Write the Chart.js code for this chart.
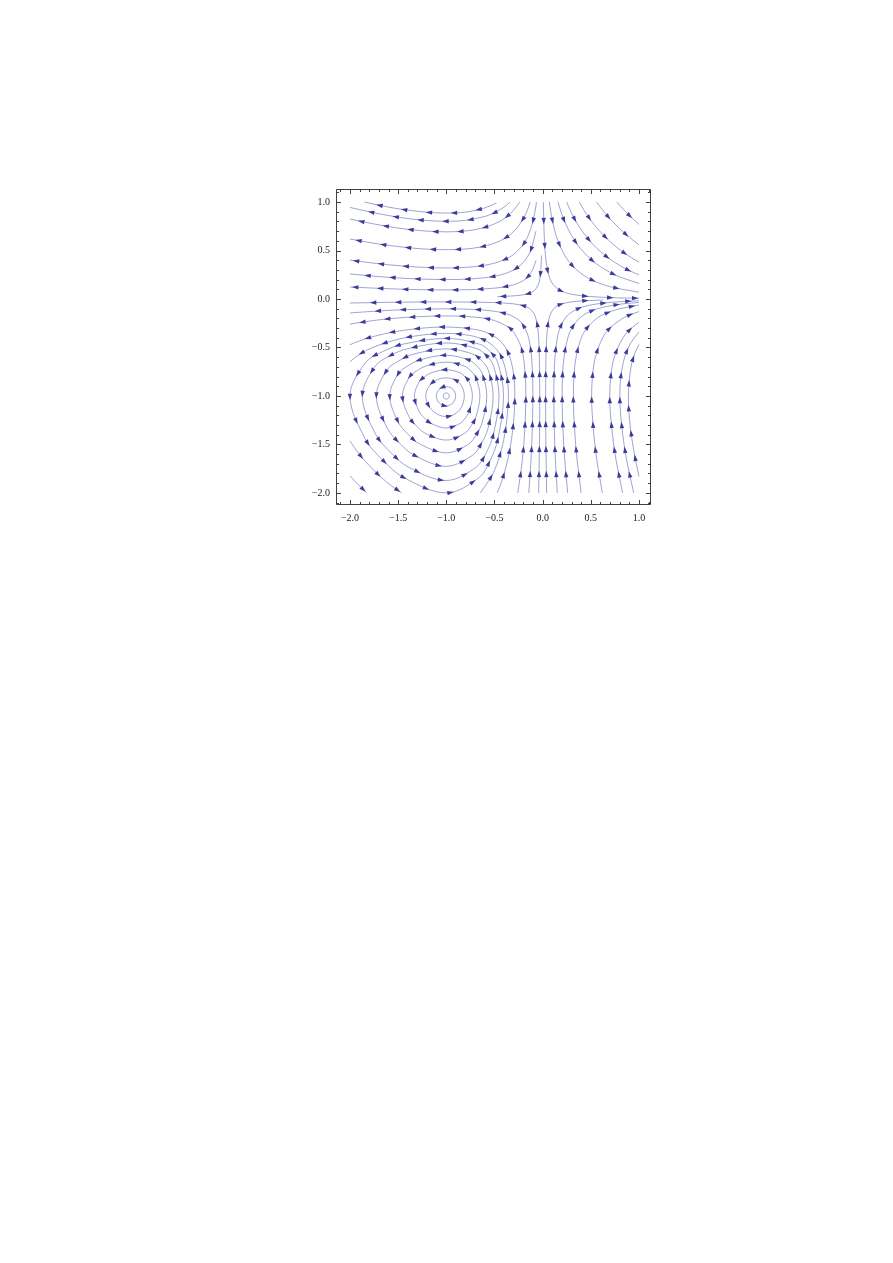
<!DOCTYPE html>
<html lang="en">
<head>
<meta charset="UTF-8">
<title>Stream plot</title>
<script src="https://cdn.jsdelivr.net/npm/chart.js"></script>
<style>
  html, body { margin: 0; padding: 0; background: #fff; }
  #plot { display: block; }
</style>
</head>
<body>
<canvas id="plot" width="893" height="1263"></canvas>
<script>
// tick positions
const xMajor = [-2, -1.5, -1, -0.5, 0, 0.5, 1];
const yMajor = [-2, -1.5, -1, -0.5, 0, 0.5, 1];
const minorTicks = [-2.1, -1.9, -1.8, -1.7, -1.6, -1.4, -1.3, -1.2, -1.1, -0.9, -0.8, -0.7, -0.6,
                    -0.4, -0.3, -0.2, -0.1, 0.1, 0.2, 0.3, 0.4, 0.6, 0.7, 0.8, 0.9, 1.1];

// streamlines, each one listed in the direction of flow
// upper left: come down near x = 0 and run off to the left
const upperLeft1 = [[-0.48,0.99],[-0.6,0.94],[-0.8,0.897],[-1,0.887],[-1.2,0.895],[-1.4,0.917],[-1.6,0.948],[-1.85,1.0]];
const upperLeft2 = [[-0.34,1],[-0.4,0.948],[-0.5,0.89],[-0.6,0.852],[-0.8,0.812],[-1,0.802],[-1.2,0.81],[-1.4,0.83],[-1.6,0.861],[-1.8,0.9],[-2,0.945]];
const upperLeft3 = [[-0.238,1],[-0.3,0.917],[-0.4,0.829],[-0.5,0.775],[-0.65,0.727],[-0.8,0.702],[-1,0.693],[-1.25,0.704],[-1.5,0.732],[-1.75,0.774],[-2,0.825]];
const upperLeft4 = [[-0.13,1],[-0.15,0.94],[-0.2,0.829],[-0.3,0.697],[-0.4,0.622],[-0.5,0.576],[-0.65,0.536],[-0.8,0.516],[-1,0.509],[-1.25,0.517],[-1.5,0.541],[-1.75,0.575],[-2,0.619]];
const upperLeft5 = [[-0.064,1],[-0.07,0.957],[-0.1,0.804],[-0.15,0.655],[-0.2,0.565],[-0.3,0.4615],[-0.4,0.4045],[-0.55,0.358],[-0.75,0.33],[-1,0.32],[-1.3,0.33],[-1.6,0.3535],[-1.85,0.382],[-2,0.402]];
const upperLeft6 = [[-0.069,0.7],[-0.124,0.5],[-0.1815,0.4],[-0.254,0.33],[-0.35,0.2775],[-0.5,0.235],[-0.75,0.207],[-1,0.201],[-1.3,0.207],[-1.6,0.224],[-2,0.258]];
const upperLeft7 = [[-0.068,0.4],[-0.1045,0.3],[-0.163,0.22],[-0.24,0.17],[-0.35,0.135],[-0.5,0.112],[-0.75,0.097],[-1,0.094],[-1.3,0.097],[-1.6,0.106],[-2,0.124]];
const upperLeft8 = [[-0.0107,0.45],[-0.019,0.3],[-0.03,0.2],[-0.045,0.15],[-0.074,0.1],[-0.112,0.07],[-0.17,0.05],[-0.227,0.04],[-0.343,0.03],[-0.47,0.025]];

// upper right: come down from the top and run off to the right
const upperRight1 = [[0.77,1],[0.85,0.913],[0.93,0.833],[1,0.77]];
const upperRight2 = [[0.56,1],[0.65,0.884],[0.75,0.775],[0.875,0.658],[1,0.56]];
const upperRight3 = [[0.38,1],[0.45,0.884],[0.55,0.749],[0.7,0.593],[0.85,0.473],[1,0.38]];
const upperRight4 = [[0.25,1],[0.3,0.887],[0.37,0.761],[0.47,0.623],[0.6,0.489],[0.75,0.377],[0.88,0.303],[1,0.25]];
const upperRight5 = [[0.16,1],[0.19,0.901],[0.23,0.796],[0.3,0.655],[0.4,0.5125],[0.55,0.37],[0.75,0.25],[1,0.16]];
const upperRight6 = [[0.07,1],[0.08,0.93],[0.1,0.818],[0.13,0.691],[0.17,0.572],[0.25,0.418],[0.35,0.304],[0.5,0.202],[0.7,0.1275],[1,0.07]];
const upperRight7 = [[0.0078,1],[0.0118,0.8],[0.019,0.6],[0.029,0.45],[0.05,0.3],[0.08,0.2],[0.109,0.15],[0.163,0.1],[0.2255,0.07],[0.299,0.05],[0.441,0.03],[0.58,0.02],[0.695,0.015],[0.877,0.01],[1,0.0078]];

// lower right: rise from the bottom and bend off to the right
const lowerRight1 = [[0.0415,-2],[0.034,-1.5],[0.031,-1],[0.037,-0.5],[0.05,-0.3],[0.067,-0.2],[0.0835,-0.15],[0.115,-0.1],[0.154,-0.07],[0.201,-0.05],[0.298,-0.03],[0.4,-0.02],[0.63,-0.01]];
const lowerRight2 = [[0.152,-2],[0.13,-1.6],[0.118,-1.2],[0.116,-1],[0.118,-0.8],[0.128,-0.6],[0.152,-0.4],[0.18,-0.3],[0.232,-0.2],[0.28,-0.15],[0.367,-0.1],[0.462,-0.07],[0.57,-0.05],[0.765,-0.03],[1,-0.018]];
const lowerRight3 = [[0.26,-2],[0.2255,-1.6],[0.2055,-1.2],[0.203,-1],[0.206,-0.8],[0.222,-0.6],[0.262,-0.4],[0.303,-0.3],[0.381,-0.2],[0.45,-0.15],[0.5705,-0.1],[0.697,-0.07],[0.834,-0.05],[1,-0.035]];
const lowerRight4 = [[0.4,-2],[0.352,-1.6],[0.3235,-1.2],[0.319,-1],[0.325,-0.8],[0.347,-0.6],[0.402,-0.4],[0.46,-0.3],[0.562,-0.2],[0.652,-0.15],[0.801,-0.1],[1,-0.063]];
const lowerRight5 = [[0.62,-2],[0.554,-1.6],[0.5155,-1.2],[0.509,-1],[0.517,-0.8],[0.548,-0.6],[0.623,-0.4],[0.698,-0.3],[0.83,-0.2],[0.916,-0.16],[1,-0.13]];
const lowerRight6 = [[0.83,-2],[0.752,-1.6],[0.705,-1.2],[0.697,-1],[0.707,-0.8],[0.744,-0.6],[0.835,-0.4],[0.922,-0.3],[1,-0.241]];
const lowerRight7 = [[0.945,-2],[0.861,-1.6],[0.81,-1.2],[0.802,-1],[0.812,-0.8],[0.852,-0.6],[0.9175,-0.45],[1,-0.34]];
const lowerRight8 = [[1,-1.83],[0.953,-1.6],[0.908,-1.3],[0.8905,-1],[0.9175,-0.7],[0.962,-0.55],[1,-0.47]];

// lower left: big orbits cut by the frame
const cutOrbit1 = [[-0.646,-2],[-0.516,-1.8],[-0.441,-1.6],[-0.394,-1.4],[-0.367,-1.2],[-0.355,-1],[-0.37,-0.8],[-0.426,-0.6],[-0.5,-0.497],[-0.6,-0.426],[-0.75,-0.377],[-1,-0.355],[-1.25,-0.372],[-1.5,-0.415],[-1.75,-0.494],[-1.9,-0.57],[-2,-0.646]];
const cutCorner1 = [[-2,-1.465],[-1.9,-1.605],[-1.76,-1.76],[-1.605,-1.9],[-1.465,-2]];
const cutOrbit2 = [[-0.472,-2],[-0.4145,-1.85],[-0.35,-1.6],[-0.305,-1.3],[-0.289,-1],[-0.305,-0.75],[-0.36,-0.55],[-0.437,-0.437],[-0.55,-0.36],[-0.7,-0.3135],[-1,-0.289],[-1.3,-0.305],[-1.55,-0.3405],[-1.75,-0.385],[-1.9,-0.4315],[-2,-0.472]];
const cutCorner2 = [[-2,-1.825],[-1.914,-1.914],[-1.825,-2]];
const cutOrbit3 = [[-0.258,-2],[-0.215,-1.7],[-0.1885,-1.4],[-0.1745,-1],[-0.187,-0.7],[-0.222,-0.5],[-0.293,-0.35],[-0.32,-0.32],[-0.35,-0.293],[-0.5,-0.222],[-0.7,-0.187],[-1,-0.1745],[-1.4,-0.1885],[-1.7,-0.215],[-2,-0.258]];
const cutOrbit4 = [[-0.144,-2],[-0.123,-1.7],[-0.109,-1.4],[-0.1015,-1],[-0.108,-0.7],[-0.1265,-0.5],[-0.161,-0.35],[-0.2145,-0.25],[-0.2315,-0.2315],[-0.25,-0.2145],[-0.35,-0.161],[-0.5,-0.1265],[-0.7,-0.108],[-1,-0.1015],[-1.4,-0.109],[-1.7,-0.123],[-2,-0.144]];
const cutOrbit5 = [[-0.041,-2],[-0.033,-1.5],[-0.03,-1],[-0.0365,-0.5],[-0.05,-0.3],[-0.07,-0.2],[-0.09,-0.15],[-0.116,-0.116],[-0.15,-0.09],[-0.2,-0.07],[-0.3,-0.05],[-0.5,-0.0365],[-1,-0.03],[-1.5,-0.033],[-2,-0.041]];

// closed rings round the centre at (-1, -1), counter-clockwise
const ring0 = [[-0.969,-1],[-0.978,-0.978],[-1,-0.969],[-1.022,-0.978],[-1.032,-1],[-1.022,-1.022],[-1,-1.032],[-0.978,-1.022]];
const ring1 = [[-0.903,-1],[-0.931,-0.931],[-1,-0.903],[-1.0725,-0.931],[-1.104,-1],[-1.0725,-1.0725],[-1,-1.104],[-0.931,-1.0725]];
const ring2 = [[-0.813,-1],[-0.865,-0.865],[-1,-0.813],[-1.148,-0.865],[-1.213,-1],[-1.148,-1.148],[-1,-1.213],[-0.865,-1.148]];
const ring3 = [[-0.729,-1],[-0.762,-0.857],[-0.803,-0.803],[-0.857,-0.762],[-1,-0.729],[-1.158,-0.762],[-1.227,-0.803],[-1.283,-0.857],[-1.331,-1],[-1.283,-1.158],[-1.227,-1.227],[-1.158,-1.283],[-1,-1.331],[-0.857,-1.283],[-0.803,-1.227],[-0.762,-1.158]];
const ring4 = [[-0.651,-1],[-0.692,-0.813],[-0.743,-0.743],[-0.813,-0.692],[-1,-0.651],[-1.213,-0.692],[-1.31,-0.743],[-1.388,-0.813],[-1.455,-1],[-1.388,-1.213],[-1.31,-1.31],[-1.213,-1.388],[-1,-1.455],[-0.813,-1.388],[-0.743,-1.31],[-0.692,-1.213]];
const ring5 = [[-0.58,-1],[-0.627,-0.77],[-0.687,-0.687],[-0.77,-0.627],[-1,-0.58],[-1.271,-0.627],[-1.396,-0.687],[-1.498,-0.77],[-1.587,-1],[-1.498,-1.271],[-1.396,-1.396],[-1.271,-1.498],[-1,-1.587],[-0.77,-1.498],[-0.687,-1.396],[-0.627,-1.271]];
const ring6 = [[-0.514,-1],[-0.566,-0.729],[-0.634,-0.634],[-0.729,-0.566],[-1,-0.514],[-1.331,-0.566],[-1.486,-0.634],[-1.613,-0.729],[-1.726,-1],[-1.613,-1.331],[-1.486,-1.486],[-1.331,-1.613],[-1,-1.726],[-0.729,-1.613],[-0.634,-1.486],[-0.566,-1.331]];
const ring7 = [[-0.453,-1],[-0.51,-0.69],[-0.583,-0.583],[-0.69,-0.51],[-1,-0.453],[-1.392,-0.51],[-1.58,-0.583],[-1.735,-0.69],[-1.872,-1],[-1.735,-1.392],[-1.58,-1.58],[-1.392,-1.735],[-1,-1.872],[-0.69,-1.735],[-0.583,-1.58],[-0.51,-1.392]];
const ring8 = [[-0.406,-1],[-0.465,-0.658],[-0.543,-0.543],[-0.658,-0.465],[-1,-0.406],[-1.445,-0.465],[-1.661,-0.543],[-1.84,-0.658],[-2,-1],[-1.84,-1.445],[-1.661,-1.661],[-1.445,-1.84],[-1,-2],[-0.658,-1.84],[-0.543,-1.661],[-0.465,-1.445]];

const openLines = [
  upperLeft1, upperLeft2, upperLeft3, upperLeft4, upperLeft5, upperLeft6, upperLeft7, upperLeft8,
  upperRight1, upperRight2, upperRight3, upperRight4, upperRight5, upperRight6, upperRight7,
  lowerRight1, lowerRight2, lowerRight3, lowerRight4, lowerRight5, lowerRight6, lowerRight7, lowerRight8,
  cutOrbit1, cutCorner1, cutOrbit2, cutCorner2, cutOrbit3, cutOrbit4, cutOrbit5
];
const rings = [ring0, ring1, ring2, ring3, ring4, ring5, ring6, ring7, ring8];

const LINE_COLOR = 'rgba(62, 62, 158, 0.6)';
const ARROW_COLOR = '#3b3b9c';
const ARROW_FIRST = 19;   // px from the start of a line to its first head
const ARROW_GAP = 25;     // px between heads
const ARROW_LEN = 6.5;
const ARROW_HALF = 2.2;

const datasets = [];
openLines.forEach(pts => {
  datasets.push({ data: pts.map(([x, y]) => ({ x, y })), loop: false });
});
rings.forEach(pts => {
  // wrap one point on each side so the spline closes smoothly, then hide the two extra pieces
  const wrapped = [pts[pts.length - 1], ...pts, pts[0], pts[1]];
  const n = wrapped.length;
  datasets.push({
    data: wrapped.map(([x, y]) => ({ x, y })),
    loop: true,
    segment: {
      borderColor: c => (c.p0DataIndex === 0 || c.p1DataIndex === n - 1) ? 'rgba(0,0,0,0)' : undefined
    }
  });
});

function bez(a, b, t) {
  const c1x = a.cp2x ?? a.x, c1y = a.cp2y ?? a.y;
  const c2x = b.cp1x ?? b.x, c2y = b.cp1y ?? b.y;
  const u = 1 - t;
  return [
    u * u * u * a.x + 3 * u * u * t * c1x + 3 * u * t * t * c2x + t * t * t * b.x,
    u * u * u * a.y + 3 * u * u * t * c1y + 3 * u * t * t * c2y + t * t * t * b.y
  ];
}

// arrow heads spaced along each drawn curve
const arrowPlugin = {
  id: 'arrows',
  afterDatasetsDraw(chart) {
    const { ctx, chartArea: a } = chart;
    ctx.save();
    ctx.beginPath();
    ctx.rect(a.left, a.top, a.right - a.left, a.bottom - a.top);
    ctx.clip();
    ctx.fillStyle = ARROW_COLOR;
    chart.data.datasets.forEach((ds, i) => {
      const pts = chart.getDatasetMeta(i).data;
      const first = ds.loop ? 1 : 0;
      const last = ds.loop ? pts.length - 2 : pts.length - 1;
      const samples = [[pts[first].x, pts[first].y]];
      for (let j = first; j < last; j++) {
        for (let k = 1; k <= 20; k++) samples.push(bez(pts[j], pts[j + 1], k / 20));
      }
      let total = 0;
      for (let k = 1; k < samples.length; k++) {
        total += Math.hypot(samples[k][0] - samples[k - 1][0], samples[k][1] - samples[k - 1][1]);
      }
      let walked = 0, next = ARROW_FIRST;
      for (let k = 1; k < samples.length && next <= total - 3; k++) {
        const [px, py] = samples[k - 1], [qx, qy] = samples[k];
        const seg = Math.hypot(qx - px, qy - py);
        if (seg === 0) continue;
        while (walked + seg >= next && next <= total - 3) {
          const f = (next - walked) / seg;
          const cx = px + (qx - px) * f, cy = py + (qy - py) * f;
          const dx = (qx - px) / seg, dy = (qy - py) / seg;
          ctx.beginPath();
          ctx.moveTo(cx + dx * ARROW_LEN / 2, cy + dy * ARROW_LEN / 2);
          ctx.lineTo(cx - dx * ARROW_LEN / 2 - dy * ARROW_HALF, cy - dy * ARROW_LEN / 2 + dx * ARROW_HALF);
          ctx.lineTo(cx - dx * ARROW_LEN / 2 + dy * ARROW_HALF, cy - dy * ARROW_LEN / 2 - dx * ARROW_HALF);
          ctx.closePath();
          ctx.fill();
          next += ARROW_GAP;
        }
        walked += seg;
      }
    });
    ctx.restore();
  }
};

// frame with inward ticks on all four sides
const framePlugin = {
  id: 'frame',
  afterDraw(chart) {
    const { ctx, chartArea: a, scales } = chart;
    const L = a.left + 0.5, R = a.right - 0.5, T = a.top + 0.5, B = a.bottom - 0.5;
    ctx.save();
    ctx.strokeStyle = '#2b2b2b';
    ctx.lineWidth = 0.9;
    ctx.beginPath();
    ctx.rect(L, T, R - L, B - T);
    const xt = (v, len) => {
      const p = Math.round(scales.x.getPixelForValue(v)) + 0.5;
      ctx.moveTo(p, B); ctx.lineTo(p, B - len);
      ctx.moveTo(p, T); ctx.lineTo(p, T + len);
    };
    const yt = (v, len) => {
      const p = Math.round(scales.y.getPixelForValue(v)) + 0.5;
      ctx.moveTo(L, p); ctx.lineTo(L + len, p);
      ctx.moveTo(R, p); ctx.lineTo(R - len, p);
    };
    xMajor.forEach(v => xt(v, 4.5));
    yMajor.forEach(v => yt(v, 4.5));
    minorTicks.forEach(v => { xt(v, 2.5); yt(v, 2.5); });
    ctx.stroke();
    ctx.restore();
  }
};

const fmt = v => (v < 0 ? '\u2212' : '') + Math.abs(v).toFixed(1);
const tickFont = { family: 'Liberation Serif', size: 10 };

new Chart(document.getElementById('plot'), {
  type: 'line',
  data: { datasets },
  plugins: [arrowPlugin, framePlugin],
  options: {
    responsive: false,
    animation: false,
    devicePixelRatio: 1,
    events: [],
    layout: { padding: { left: 276, top: 189, right: 242, bottom: 728 } },
    plugins: { legend: { display: false }, tooltip: { enabled: false } },
    elements: {
      point: { radius: 0 },
      line: { tension: 0.35, borderWidth: 0.8, borderColor: LINE_COLOR, fill: false }
    },
    scales: {
      x: {
        type: 'linear', min: -2.145, max: 1.125,
        grid: { display: false, drawTicks: false }, border: { display: false },
        afterBuildTicks: s => { s.ticks = xMajor.map(v => ({ value: v })); },
        afterFit: s => { s.height = 30; },
        ticks: { font: tickFont, color: '#1a1a1a', padding: 7, maxRotation: 0, autoSkip: false, callback: fmt }
      },
      y: {
        type: 'linear', min: -2.125, max: 1.135,
        grid: { display: false, drawTicks: false }, border: { display: false },
        afterBuildTicks: s => { s.ticks = yMajor.map(v => ({ value: v })); },
        afterFit: s => { s.width = 60; },
        ticks: { font: tickFont, color: '#1a1a1a', padding: 6, autoSkip: false, callback: fmt }
      }
    }
  }
});
</script>
</body>
</html>
